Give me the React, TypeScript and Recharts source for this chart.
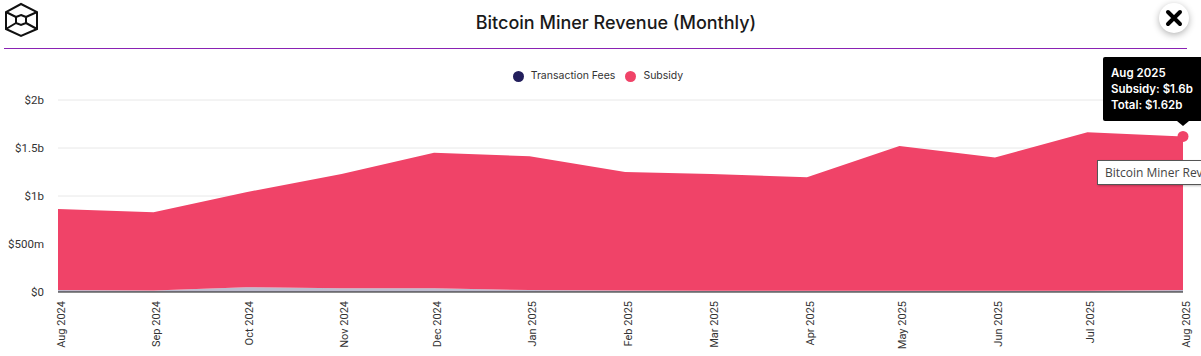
import React from "react";
import {
  AreaChart,
  Area,
  XAxis,
  YAxis,
  CartesianGrid,
  Tooltip,
  Legend
} from "recharts";

const months = [
  "Aug 2024", "Sep 2024", "Oct 2024", "Nov 2024", "Dec 2024", "Jan 2025", "Feb 2025",
  "Mar 2025", "Apr 2025", "May 2025", "Jun 2025", "Jul 2025", "Aug 2025"
];
// days since 1 Aug 2024, the axis is a time axis
const days = [0, 31, 61, 92, 122, 153, 184, 212, 243, 273, 304, 334, 365];
const fees = [0.02, 0.015, 0.05, 0.04, 0.04, 0.02, 0.015, 0.012, 0.012, 0.012, 0.012, 0.012, 0.02];
const subsidy = [0.845, 0.815, 0.99, 1.19, 1.41, 1.395, 1.235, 1.218, 1.183, 1.508, 1.388, 1.653, 1.6];
const yTicks = [0, 0.5, 1, 1.5, 2];

const data = months.map((month, i) => ({
  month,
  day: days[i],
  fees: fees[i],
  subsidy: subsidy[i]
}));

const formatUsd = (v: number) => {
  if (v === 0) return "$0";
  if (v < 1) return `$${Math.round(v * 1000)}m`;
  return `$${+v.toFixed(2)}b`;
};

const MonthTick = ({ x, y, payload }: any) => {
  const label = months[days.indexOf(payload.value)];
  return (
    <text
      transform={`translate(${x + 4},${y + 1}) rotate(-90)`}
      textAnchor="end"
      dominantBaseline="middle"
      fontFamily="Roboto"
      fontSize={11}
      fill="#333"
    >
      {label}
    </text>
  );
};

const HoverBox = ({ payload }: any) => {
  if (!payload || !payload.length) return null;
  const row = payload[0].payload;
  return (
    <div style={{ position: "relative", width: 98, height: 64, background: "#000", borderRadius: "2px 0 0 2px", color: "#fff", fontFamily: "Inter", fontSize: 11.5, fontWeight: 600, lineHeight: "16px", padding: "8px 0 0 8px", boxSizing: "border-box", whiteSpace: "nowrap" }}>
      <div>{row.month}</div>
      <div>Subsidy: {formatUsd(row.subsidy)}</div>
      <div>Total: {formatUsd(row.fees + row.subsidy)}</div>
      <div style={{ position: "absolute", left: 74, top: 64, width: 0, height: 0, borderLeft: "6px solid transparent", borderRight: "6px solid transparent", borderTop: "5px solid #000" }} />
    </div>
  );
};

const Logo = () => (
  <svg width={44} height={40} style={{ position: "absolute", left: 0, top: 0 }} fill="none" stroke="#111" strokeWidth={2}>
    <polygon points="21,4 37,12 37,29 21,36 6,29 6,12" />
    <polygon points="21,15 26,17 26,23 21,25 16,23 16,17" />
    <path d="M6 12L16 17M37 12L26 17M6 29L16 23M37 29L26 23" />
  </svg>
);

export default function App() {
  return (
    <div style={{ position: "absolute", left: 0, top: 0, width: 1201, height: 356, overflow: "hidden", background: "#fff" }}>
      <Logo />
      <div style={{ position: "absolute", left: 0, width: 1232, top: 9, textAlign: "center", fontFamily: "Inter", fontSize: 18, fontWeight: 500, color: "#1a1a1a", lineHeight: "28px" }}>
        Bitcoin Miner Revenue (Monthly)
      </div>
      <div style={{ position: "absolute", left: 4, top: 48, width: 1183, height: 1, background: "#8a22b4" }} />
      <AreaChart
        width={1201}
        height={356}
        data={data}
        margin={{ top: 100, right: 18, bottom: 0, left: 0 }}
      >
        <CartesianGrid horizontal vertical={false} stroke="#e8e8e8" />
        <XAxis
          dataKey="day"
          type="number"
          domain={[0, 365]}
          ticks={days}
          interval={0}
          height={64}
          tick={<MonthTick />}
          tickLine={false}
          axisLine={{ stroke: "#222", strokeWidth: 1 }}
        />
        <YAxis
          width={58}
          domain={[0, 2]}
          ticks={yTicks}
          tickFormatter={formatUsd}
          tickLine={false}
          axisLine={false}
          tickMargin={8}
          tick={{ fontFamily: "Roboto", fontSize: 11.5, fill: "#333" }}
        />
        <Legend
          verticalAlign="middle"
          align="center"
          iconType="circle"
          iconSize={11}
          itemSorter={null}
          wrapperStyle={{ position: "absolute", top: 69, left: 0, width: 1206, fontFamily: "Inter", fontSize: 10.5 }}
          formatter={(value) => <span style={{ color: "#333", marginLeft: 3 }}>{value}</span>}
        />
        <Tooltip
          active
          defaultIndex={12}
          cursor={false}
          content={<HoverBox />}
          position={{ x: 1103, y: 57 }}
          allowEscapeViewBox={{ x: true, y: true }}
          isAnimationActive={false}
          wrapperStyle={{ outline: "none" }}
        />
        <Area
          dataKey="fees"
          name="Transaction Fees"
          stackId="rev"
          type="linear"
          stroke="none"
          fill="#231f5c"
          fillOpacity={0.3}
          activeDot={false}
          isAnimationActive={false}
        />
        <Area
          dataKey="subsidy"
          name="Subsidy"
          stackId="rev"
          type="linear"
          stroke="none"
          fill="#f04368"
          fillOpacity={1}
          activeDot={{ r: 5.5, fill: "#f04368", stroke: "none" }}
          isAnimationActive={false}
        />
      </AreaChart>
      <div style={{ position: "absolute", left: 1097, top: 160, width: 104, height: 25, boxSizing: "border-box", background: "#fff", border: "1px solid #555", borderRight: "none", boxShadow: "1px 1px 2px rgba(0,0,0,0.25)", fontFamily: "Open Sans", fontSize: 12, lineHeight: "23px", paddingLeft: 7, color: "#444", whiteSpace: "nowrap", overflow: "hidden" }}>
        Bitcoin Miner Reve
      </div>
      <div style={{ position: "absolute", left: 1159, top: 3, width: 30, height: 30, borderRadius: 15, background: "#fff", boxShadow: "0 2px 7px rgba(0,0,0,0.3)" }}>
        <svg width={30} height={30} stroke="#000" strokeWidth={4} strokeLinecap="round">
          <path d="M9 9L21 21M21 9L9 21" />
        </svg>
      </div>
    </div>
  );
}
